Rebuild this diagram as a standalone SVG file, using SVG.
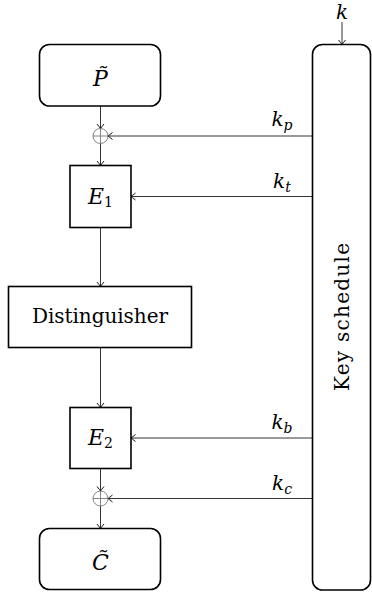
<svg xmlns="http://www.w3.org/2000/svg" width="372" height="592" viewBox="0 0 372 592">
<defs>
<marker id="to" viewBox="-6 -5 8 10" markerWidth="8" markerHeight="10" refX="0" refY="0" orient="auto" markerUnits="userSpaceOnUse">
<path d="M -4.5 -3.5 Q -1.2 -0.8 0 0 Q -1.2 0.8 -4.5 3.5" fill="none" stroke="#000" stroke-width="0.9"/>
</marker>
<style>
.box{fill:#fff;stroke:#000;stroke-width:1.6}
.xor{fill:none;stroke:#777;stroke-width:0.9}
.ln{fill:none;stroke:#000;stroke-width:0.8;marker-end:url(#to)}
text{font-family:'DejaVu Serif',serif;fill:#000}
.rm{font-size:20px;font-style:normal}
.mi{font-style:italic;font-size:20px}
.big{font-size:22px}
.sub{font-size:14px}
</style>
</defs>
<g id="connectors">
<line class="ln" x1="100.5" y1="106" x2="100.5" y2="128.5"/>
<line class="ln" x1="100.5" y1="143.5" x2="100.5" y2="165.5"/>
<line class="ln" x1="100.5" y1="227.5" x2="100.5" y2="286.5"/>
<line class="ln" x1="100.5" y1="347.5" x2="100.5" y2="407.5"/>
<line class="ln" x1="100.5" y1="468.5" x2="100.5" y2="491"/>
<line class="ln" x1="100.5" y1="506" x2="100.5" y2="528.5"/>
<line class="ln" x1="312.5" y1="136" x2="108" y2="136"/>
<line class="ln" x1="312.5" y1="196.5" x2="131" y2="196.5"/>
<line class="ln" x1="312.5" y1="438" x2="131" y2="438"/>
<line class="ln" x1="312.5" y1="498.5" x2="108" y2="498.5"/>
<line class="ln" x1="342" y1="22" x2="342" y2="44.5"/>
<text class="mi" x="282" y="126" text-anchor="middle">k<tspan class="sub" dy="4">p</tspan></text>
<text class="mi" x="282" y="188" text-anchor="middle">k<tspan class="sub" dy="4">t</tspan></text>
<text class="mi" x="282" y="429" text-anchor="middle">k<tspan class="sub" dy="4">b</tspan></text>
<text class="mi" x="282" y="490" text-anchor="middle">k<tspan class="sub" dy="4">c</tspan></text>
<text class="mi" x="342" y="19" font-size="19" text-anchor="middle">k</text>
</g>
<g id="P">
<rect class="box" x="39.5" y="44.5" width="121" height="61.5" rx="10"/>
<text class="mi big" x="100.5" y="86" text-anchor="middle">P̃</text>
</g>
<g id="xor1">
<circle class="xor" cx="100.5" cy="136" r="7.5"/>
<line class="xor" x1="93" y1="136" x2="108" y2="136"/>
<line class="xor" x1="100.5" y1="128.5" x2="100.5" y2="143.5"/>
</g>
<g id="E1">
<rect class="box" x="70" y="165.5" width="61" height="62"/>
<text class="mi big" x="100.5" y="204" text-anchor="middle">E<tspan class="rm sub" dy="3">1</tspan></text>
</g>
<g id="Distinguisher">
<rect class="box" x="8.5" y="286.5" width="183" height="61"/>
<text class="rm" x="100" y="323" text-anchor="middle" textLength="136" lengthAdjust="spacing">Distinguisher</text>
</g>
<g id="E2">
<rect class="box" x="70" y="407.5" width="61" height="61"/>
<text class="mi big" x="100.5" y="445" text-anchor="middle">E<tspan class="rm sub" dy="3">2</tspan></text>
</g>
<g id="xor2">
<circle class="xor" cx="100.5" cy="498.5" r="7.5"/>
<line class="xor" x1="93" y1="498.5" x2="108" y2="498.5"/>
<line class="xor" x1="100.5" y1="491" x2="100.5" y2="506"/>
</g>
<g id="C">
<rect class="box" x="39.5" y="528.5" width="121" height="61" rx="10"/>
<text class="mi big" x="100.5" y="570" text-anchor="middle">C̃</text>
</g>
<g id="KeySchedule">
<rect class="box" x="312.5" y="44.5" width="58" height="545.5" rx="10"/>
<text class="rm" transform="translate(349,317) rotate(-90)" x="0" y="0" text-anchor="middle" textLength="148" lengthAdjust="spacing">Key schedule</text>
</g>
</svg>
